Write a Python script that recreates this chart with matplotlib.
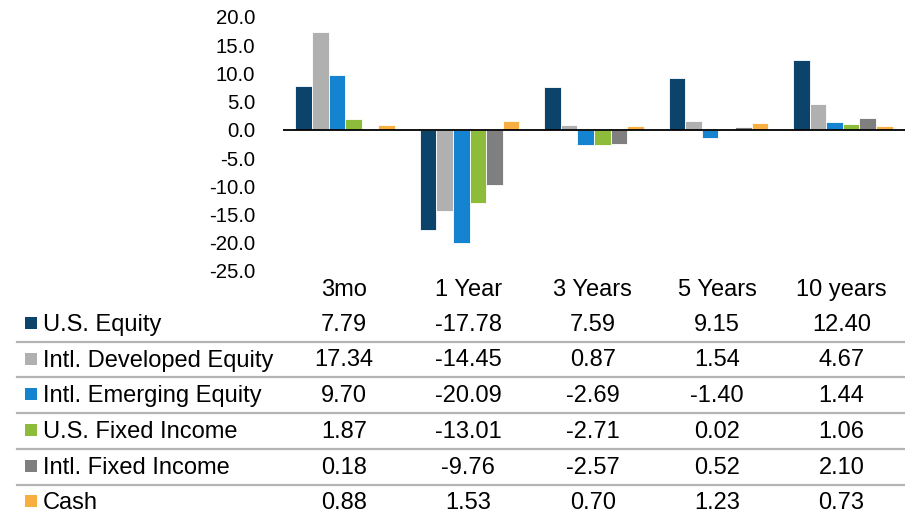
import matplotlib
matplotlib.use("Agg")
import matplotlib.pyplot as plt
import matplotlib.transforms as mtransforms
from matplotlib.patches import Rectangle
from matplotlib.lines import Line2D
import numpy as np

plt.rcParams['font.family'] = ['Liberation Sans', 'DejaVu Sans']

categories = ["3mo", "1 Year", "3 Years", "5 Years", "10 years"]
series_names = ["U.S. Equity", "Intl. Developed Equity", "Intl. Emerging Equity",
                "U.S. Fixed Income", "Intl. Fixed Income", "Cash"]
us_equity = [7.79, -17.78, 7.59, 9.15, 12.40]
intl_dev_equity = [17.34, -14.45, 0.87, 1.54, 4.67]
intl_em_equity = [9.70, -20.09, -2.69, -1.40, 1.44]
us_fixed = [1.87, -13.01, -2.71, 0.02, 1.06]
intl_fixed = [0.18, -9.76, -2.57, 0.52, 2.10]
cash = [0.88, 1.53, 0.70, 1.23, 0.73]
series_values = [us_equity, intl_dev_equity, intl_em_equity, us_fixed, intl_fixed, cash]
colors = ["#0B436B", "#B0B0B0", "#1484D0", "#8DBB3A", "#7F7F7F", "#F9AE40"]
yticks = [20, 15, 10, 5, 0, -5, -10, -15, -20, -25]

W, H = 905, 514
fig = plt.figure(figsize=(W / 100, H / 100), dpi=100)
ax_left, ax_right = 283, 905
ax_top, ax_bot = 17, 271
ax = fig.add_axes([ax_left / W, 1 - ax_bot / H, (ax_right - ax_left) / W, (ax_bot - ax_top) / H])

n = len(series_names)
bw = 0.8 / n
x = np.arange(len(categories))
for i, (vals, c) in enumerate(zip(series_values, colors)):
    ax.bar(x - 0.4 + bw * (i + 0.5), vals, width=bw, color=c, edgecolor="white", linewidth=0.6)

ax.set_xlim(-0.5, len(categories) - 0.5)
ax.set_ylim(-25, 20)
ax.axhline(0, color="black", linewidth=1.3)
for s in ax.spines.values():
    s.set_visible(False)
ax.set_xticks([])
ax.set_yticks(yticks)
ax.set_yticklabels([f"{v:.1f}" for v in yticks], fontsize=14.7)
ax.tick_params(axis="y", length=0, pad=20)

fs = 17
trans = mtransforms.blended_transform_factory(ax.transData, fig.transFigure)
# category header
for xi, cat in zip(x, categories):
    fig.text(xi - 0.01, 1 - 296 / H, cat, transform=trans, ha="center", va="baseline", fontsize=fs)

row_base = [331, 366.5, 402, 438, 473.5, 509]
sep_y = [341.5, 377, 413, 449, 484.5]
for rb, name, vals, c in zip(row_base, series_names, series_values, colors):
    fig.patches.append(Rectangle((25 / W, 1 - (rb - 2) / H), 12 / W, 12 / H,
                                 transform=fig.transFigure, facecolor=c, edgecolor="none"))
    fig.text(43 / W, 1 - rb / H, name, ha="left", va="baseline", fontsize=fs)
    for xi, v in zip(x, vals):
        fig.text(xi - 0.01, 1 - rb / H, f"{v:.2f}", transform=trans, ha="center", va="baseline", fontsize=fs)

for sy in sep_y:
    fig.lines.append(Line2D([17 / W, 905 / W], [1 - sy / H, 1 - sy / H],
                            transform=fig.transFigure, color="#B4B4B4", linewidth=1.6))

fig.savefig("out.png", dpi=100)
